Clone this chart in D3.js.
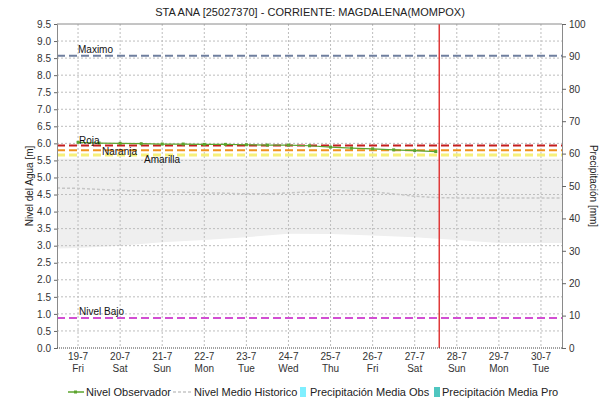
<!DOCTYPE html>
<html>
<head>
<meta charset="utf-8">
<script src="https://cdn.jsdelivr.net/npm/d3@7"></script>
<style>
  body { margin: 0; background: #fff; }
  svg { font-family: "Liberation Sans", Arial, sans-serif; }
</style>
</head>
<body>
<svg width="610" height="403"></svg>
<script>
// observed level, every 12 hours (day of July)
var obsDays = [19, 19.5, 20, 20.5, 21, 21.5, 22, 22.5, 23, 23.5, 24, 24.5, 25, 25.5, 26, 26.5, 27, 27.5];
var obsLevel = [6.03, 6.01, 6.0, 5.99, 5.98, 5.98, 5.97, 5.97, 5.96, 5.95, 5.95, 5.93, 5.89, 5.86, 5.84, 5.81, 5.79, 5.76];

// historic mean level
var histDays = [18.5, 19, 19.5, 20, 20.5, 21, 21.5, 22, 22.5, 23, 23.5, 24, 24.5, 25, 25.5, 26, 26.5, 27, 27.5, 28, 29, 30, 30.5];
var histLevel = [4.69, 4.68, 4.65, 4.62, 4.6, 4.58, 4.57, 4.55, 4.54, 4.52, 4.52, 4.55, 4.58, 4.6, 4.6, 4.58, 4.52, 4.45, 4.41, 4.4, 4.4, 4.4, 4.4];

// historic range band (min / max)
var bandDays = [18.5, 19, 20, 21, 22, 23, 24, 25, 26, 27, 28, 29, 30, 30.5];
var bandLow = [2.92, 2.93, 3.0, 3.1, 3.17, 3.25, 3.35, 3.34, 3.3, 3.25, 3.17, 3.08, 3.08, 3.08];
var bandHigh = [5.55, 5.55, 5.55, 5.55, 5.55, 5.55, 5.55, 5.55, 5.55, 5.55, 5.55, 5.55, 5.55, 5.55];

// alert levels
var levelNames = ["Maximo", "Roja", "Naranja", "Amarilla", "Nivel Bajo"];
var levelValues = [8.57, 5.94, 5.8, 5.66, 0.88];
var levelColors = ["#6f7f9f", "#c41e1e", "#f0901e", "#f6f07a", "#d24fd2"];

var nowDay = 27.6;
var tickDays = [19, 20, 21, 22, 23, 24, 25, 26, 27, 28, 29, 30];
var title = "STA ANA [25027370] - CORRIENTE: MAGDALENA(MOMPOX)";

function toDate(d) {
    var day = Math.floor(d);
    return new Date(2019, 6, day, Math.round((d - day) * 24));
}

var svg = d3.select("svg"),
    margin = { top: 24, right: 48, bottom: 55, left: 57 },
    width = +svg.attr("width") - margin.left - margin.right,
    height = +svg.attr("height") - margin.top - margin.bottom;

var x = d3.scaleTime().domain([toDate(18.5), toDate(30.5)]).range([0, width]),
    y = d3.scaleLinear().domain([0, 9.5]).range([height, 0]),
    y2 = d3.scaleLinear().domain([0, 100]).range([height, 0]);

var g = svg.append("g")
    .attr("transform", "translate(" + margin.left + "," + margin.top + ")");

// title
svg.append("text")
    .attr("x", 310).attr("y", 16)
    .attr("text-anchor", "middle")
    .attr("font-size", 11)
    .attr("fill", "#222")
    .text(title);

// historic band
var band = bandDays.map(function(d, i) { return { d: toDate(d), lo: bandLow[i], hi: bandHigh[i] }; });
g.append("path")
    .datum(band)
    .attr("fill", "#efefef")
    .attr("d", d3.area()
        .x(function(d) { return x(d.d); })
        .y0(function(d) { return y(d.lo); })
        .y1(function(d) { return y(d.hi); }));

// grid
g.append("g").selectAll("line")
    .data(d3.range(0.5, 9.5, 0.5))
    .enter().append("line")
    .attr("x1", 0).attr("x2", width)
    .attr("y1", function(d) { return y(d); })
    .attr("y2", function(d) { return y(d); })
    .attr("stroke", "#bdbdbd")
    .attr("stroke-dasharray", "2,2");

g.append("g").selectAll("line")
    .data(tickDays)
    .enter().append("line")
    .attr("x1", function(d) { return x(toDate(d)); })
    .attr("x2", function(d) { return x(toDate(d)); })
    .attr("y1", 0).attr("y2", height)
    .attr("stroke", "#bdbdbd")
    .attr("stroke-dasharray", "2,2");

// historic mean line
var hist = histDays.map(function(d, i) { return { d: toDate(d), v: histLevel[i] }; });
g.append("path")
    .datum(hist)
    .attr("fill", "none")
    .attr("stroke", "#c6c6c6")
    .attr("stroke-width", 1.5)
    .attr("stroke-dasharray", "3,2")
    .attr("d", d3.line().x(function(d) { return x(d.d); }).y(function(d) { return y(d.v); }));

// alert level lines
var levels = levelNames.map(function(n, i) { return { name: n, v: levelValues[i], c: levelColors[i] }; });
g.append("g").selectAll("line")
    .data(levels)
    .enter().append("line")
    .attr("x1", 0).attr("x2", width)
    .attr("y1", function(d) { return y(d.v); })
    .attr("y2", function(d) { return y(d.v); })
    .attr("stroke", function(d) { return d.c; })
    .attr("stroke-width", function(d) { return d.name == "Amarilla" ? 3 : 2; })
    .attr("stroke-dasharray", "8,4");

// observed line
var obs = obsDays.map(function(d, i) { return { d: toDate(d), v: obsLevel[i] }; });
g.append("path")
    .datum(obs)
    .attr("fill", "none")
    .attr("stroke", "#5ca42e")
    .attr("stroke-width", 1.2)
    .attr("d", d3.line().x(function(d) { return x(d.d); }).y(function(d) { return y(d.v); }));
g.append("g").selectAll("rect")
    .data(obs)
    .enter().append("rect")
    .attr("x", function(d) { return x(d.d) - 1.5; })
    .attr("y", function(d) { return y(d.v) - 1.5; })
    .attr("width", 3).attr("height", 3)
    .attr("fill", "#5ca42e");

// level labels
var labelX = { "Maximo": 21, "Roja": 22, "Naranja": 45, "Amarilla": 87, "Nivel Bajo": 22 };
var labelDy = { "Maximo": -3, "Roja": -1, "Naranja": 5, "Amarilla": 8, "Nivel Bajo": -3 };
g.append("g").selectAll("text")
    .data(levels)
    .enter().append("text")
    .attr("x", function(d) { return labelX[d.name]; })
    .attr("y", function(d) { return y(d.v) + labelDy[d.name]; })
    .attr("font-size", 10)
    .attr("fill", "#111")
    .text(function(d) { return d.name; });

// now line
g.append("line")
    .attr("x1", x(toDate(nowDay))).attr("x2", x(toDate(nowDay)))
    .attr("y1", 0).attr("y2", height)
    .attr("stroke", "#e03a3a")
    .attr("stroke-width", 1.5);

// frame
g.append("line").attr("x1", 0).attr("x2", width).attr("y1", 0).attr("y2", 0).attr("stroke", "#8a8a8a");

// axes
var yAxis = d3.axisLeft(y).tickValues(d3.range(0, 9.51, 0.5)).tickFormat(d3.format(".1f")).tickSize(3).tickPadding(3);
var yAxis2 = d3.axisRight(y2).tickValues(d3.range(0, 101, 10)).tickSize(4).tickPadding(3);

var ya = g.append("g").call(yAxis);
var yb = g.append("g").attr("transform", "translate(" + width + ",0)").call(yAxis2);
[ya, yb].forEach(function(a) {
    a.select(".domain").attr("stroke", "#8a8a8a");
    a.selectAll(".tick line").attr("stroke", "#666");
    a.selectAll("text").attr("font-size", 10).attr("fill", "#333")
        .attr("font-family", "'Liberation Sans', Arial, sans-serif");
});

// bottom axis (dotted)
g.append("line")
    .attr("x1", 0).attr("x2", width).attr("y1", height).attr("y2", height)
    .attr("stroke", "#444").attr("stroke-dasharray", "1,1");

var xt = g.append("g").selectAll("text")
    .data(tickDays)
    .enter().append("text")
    .attr("x", function(d) { return x(toDate(d)); })
    .attr("y", height + 12)
    .attr("text-anchor", "middle")
    .attr("font-size", 10)
    .attr("fill", "#333");
xt.append("tspan").text(function(d) { return d3.timeFormat("%-d-%-m")(toDate(d)); });
xt.append("tspan")
    .attr("x", function(d) { return x(toDate(d)); })
    .attr("dy", 12)
    .text(function(d) { return d3.timeFormat("%a")(toDate(d)); });

// axis titles
svg.append("text")
    .attr("transform", "translate(33," + (margin.top + height / 2) + ") rotate(-90)")
    .attr("text-anchor", "middle")
    .attr("font-size", 10)
    .attr("fill", "#222")
    .text("Nivel del Agua [m]");
svg.append("text")
    .attr("transform", "translate(590," + (margin.top + height / 2) + ") rotate(90)")
    .attr("text-anchor", "middle")
    .attr("font-size", 10)
    .attr("fill", "#222")
    .text("Precipitación [mm]");

// legend
var leg = svg.append("g").attr("transform", "translate(0,392)");
leg.append("line").attr("x1", 68).attr("x2", 84).attr("y1", 0).attr("y2", 0).attr("stroke", "#5ca42e").attr("stroke-width", 1.5);
leg.append("rect").attr("x", 74).attr("y", -1.5).attr("width", 3).attr("height", 3).attr("fill", "#5ca42e");
leg.append("line").attr("x1", 173).attr("x2", 192).attr("y1", 0).attr("y2", 0).attr("stroke", "#c6c6c6").attr("stroke-width", 1.5).attr("stroke-dasharray", "3,2");
leg.append("rect").attr("x", 300).attr("y", -5).attr("width", 6).attr("height", 10).attr("fill", "#7fefff");
leg.append("rect").attr("x", 434).attr("y", -5).attr("width", 6).attr("height", 10).attr("fill", "#4fc6c0");
var legText = [["Nivel Observador", 86], ["Nivel Medio Historico", 194], ["Precipitación Media Obs", 310], ["Precipitación Media Pro", 442]];
leg.selectAll("text")
    .data(legText)
    .enter().append("text")
    .attr("x", function(d) { return d[1]; })
    .attr("y", 4)
    .attr("font-size", 11)
    .attr("fill", "#222")
    .text(function(d) { return d[0]; });
</script>
</body>
</html>
